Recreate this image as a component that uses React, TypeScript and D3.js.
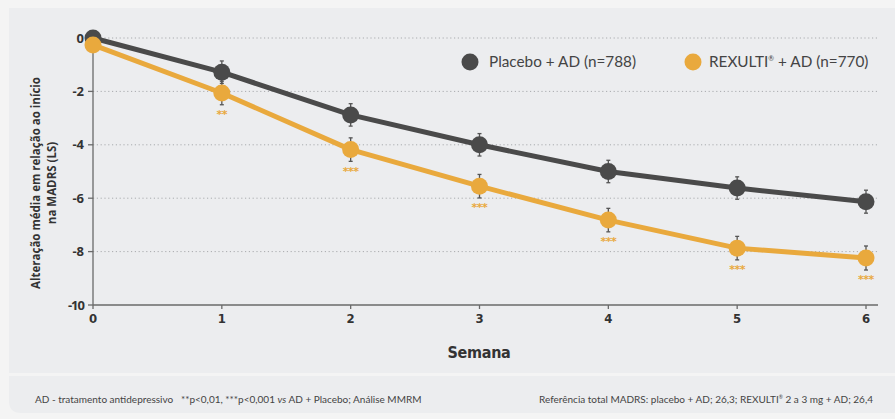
import * as d3 from 'd3';

const weeks = [0, 1, 2, 3, 4, 5, 6];
const placebo = [0, -1.28, -2.88, -4.0, -5.0, -5.62, -6.13];
const rexulti = [-0.26, -2.06, -4.18, -5.55, -6.82, -7.87, -8.24];
const placeboErr = [0, 0.42, 0.42, 0.42, 0.42, 0.42, 0.43];
const rexultiErr = [0, 0.44, 0.44, 0.44, 0.44, 0.44, 0.45];
const stars = ['', '**', '***', '***', '***', '***', '***'];
const yTicks = [0, -2, -4, -6, -8, -10];
const gridTicks = [0, -2, -4, -6, -8];

const W = 895;
const H = 419;
const GREY = '#4a4a4a';
const GOLD = '#e9a93d';

export default function App() {
  const x = d3.scaleLinear().domain([0, 6]).range([93, 866]);
  const y = d3.scaleLinear().domain([0, -10]).range([38, 305]);

  const line = d3.line<number>()
    .x((_, i) => x(weeks[i]))
    .y(d => y(d));

  const series = [
    { vals: placebo, err: placeboErr, color: GREY },
    { vals: rexulti, err: rexultiErr, color: GOLD },
  ];

  return (
    <svg width={W} height={H} style={{ position: 'absolute', left: 0, top: 0 }}>
      <rect x={0} y={0} width={W} height={H} fill="#f4f4f4" />
      {/* main panel */}
      <path d={`M9,8 H${W} V373 H9 Z`} fill="#ecedef" />
      {/* footer panel */}
      <path d={`M9,376 H${W} V413 H21 Q9,413 9,401 Z`} fill="#ecedef" />

      {/* grid */}
      {gridTicks.map(t => (
        <line key={t} x1={x(0)} x2={878} y1={y(t)} y2={y(t)}
          stroke="#a9abae" strokeWidth={1} strokeDasharray="1.2,2.6" />
      ))}

      {/* axes */}
      <line x1={x(0)} x2={x(0)} y1={y(0)} y2={y(-10)} stroke="#6a6a6a" strokeWidth={1.3} />
      <line x1={x(0)} x2={878} y1={y(-10)} y2={y(-10)} stroke="#6a6a6a" strokeWidth={1.3} />
      {yTicks.map(t => (
        <g key={t}>
          <line x1={x(0) - 5} x2={x(0)} y1={y(t)} y2={y(t)} stroke="#6a6a6a" strokeWidth={1.3} />
          <text x={x(0) - 9} y={y(t)} dy="0.36em" textAnchor="end"
            fontFamily="'Open Sans', sans-serif" fontWeight={700} fontSize={13}
            letterSpacing={t === -10 ? -1 : 0} fill="#333">{t}</text>
        </g>
      ))}
      {weeks.map(w => (
        <g key={w}>
          <line x1={x(w)} x2={x(w)} y1={y(-10)} y2={y(-10) + 4} stroke="#6a6a6a" strokeWidth={1.3} />
          <text x={x(w)} y={y(-10) + 18} textAnchor="middle"
            fontFamily="'DejaVu Sans Condensed', 'DejaVu Sans', sans-serif" fontWeight={700}
            fontSize={13} fill="#333">{w}</text>
        </g>
      ))}
      <text x={479} y={358} textAnchor="middle"
        fontFamily="'DejaVu Sans Condensed', 'DejaVu Sans', sans-serif" fontWeight={700}
        fontSize={16} letterSpacing={-0.3} fill="#333">Semana</text>

      {/* y title */}
      <g transform="translate(40,183) rotate(-90)" fontFamily="'Open Sans', sans-serif"
        fontWeight={700} fontSize={11.5} fill="#333" textAnchor="middle">
        <text x={0} y={0}>Alteração média em relação ao início</text>
        <text x={0} y={16}>na MADRS (LS)</text>
      </g>

      {/* lines */}
      {series.map((s, k) => (
        <path key={k} d={line(s.vals) ?? ''} fill="none" stroke={s.color} strokeWidth={5}
          strokeLinejoin="round" />
      ))}
      {/* error bars */}
      {series.map((s, k) => s.vals.map((v, i) => s.err[i] > 0 && (
        <g key={`${k}-${i}`} stroke="#555" strokeWidth={1.3}>
          <line x1={x(weeks[i])} x2={x(weeks[i])} y1={y(v + s.err[i])} y2={y(v - s.err[i])} />
          <line x1={x(weeks[i]) - 2} x2={x(weeks[i]) + 2} y1={y(v + s.err[i])} y2={y(v + s.err[i])} />
          <line x1={x(weeks[i]) - 2} x2={x(weeks[i]) + 2} y1={y(v - s.err[i])} y2={y(v - s.err[i])} />
        </g>
      )))}
      {/* markers */}
      {series.map((s, k) => s.vals.map((v, i) => (
        <circle key={`${k}-${i}`} cx={x(weeks[i])} cy={y(v)} r={8.5} fill={s.color} />
      )))}
      {/* significance */}
      {rexulti.map((v, i) => stars[i] && (
        <text key={i} x={x(weeks[i])} y={y(v) + 25} textAnchor="middle"
          fontFamily="'DejaVu Sans', sans-serif" fontWeight={700} fontSize={11}
          letterSpacing={-0.5} fill={GOLD}>{stars[i]}</text>
      ))}

      {/* legend */}
      <g fontFamily="Lato, sans-serif" fontSize={15.3} fill="#444">
        <circle cx={470} cy={62} r={8.5} fill={GREY} />
        <text x={489} y={62} dy="0.35em">Placebo + AD (n=788)</text>
        <circle cx={693} cy={62} r={8.5} fill={GOLD} />
        <text x={709} y={62} dy="0.35em">REXULTI<tspan fontSize={7} dy={-6}>®</tspan><tspan dy={6}> + AD (n=770)</tspan></text>
      </g>

      {/* footer */}
      <g fontFamily="Lato, sans-serif" fontSize={10} fill="#444">
        <text x={35} y={399} dy="0.35em">AD - tratamento antidepressivo{'\u00a0\u00a0\u00a0'}**p&lt;0,01, ***p&lt;0,001 <tspan fontStyle="italic">vs</tspan> AD + Placebo; Análise MMRM</text>
        <text x={873} y={399} dy="0.35em" textAnchor="end">Referência total MADRS: placebo + AD; 26,3; REXULTI<tspan fontSize={5} dy={-4}>®</tspan><tspan dy={4}> 2 a 3 mg + AD; 26,4</tspan></text>
      </g>
    </svg>
  );
}
